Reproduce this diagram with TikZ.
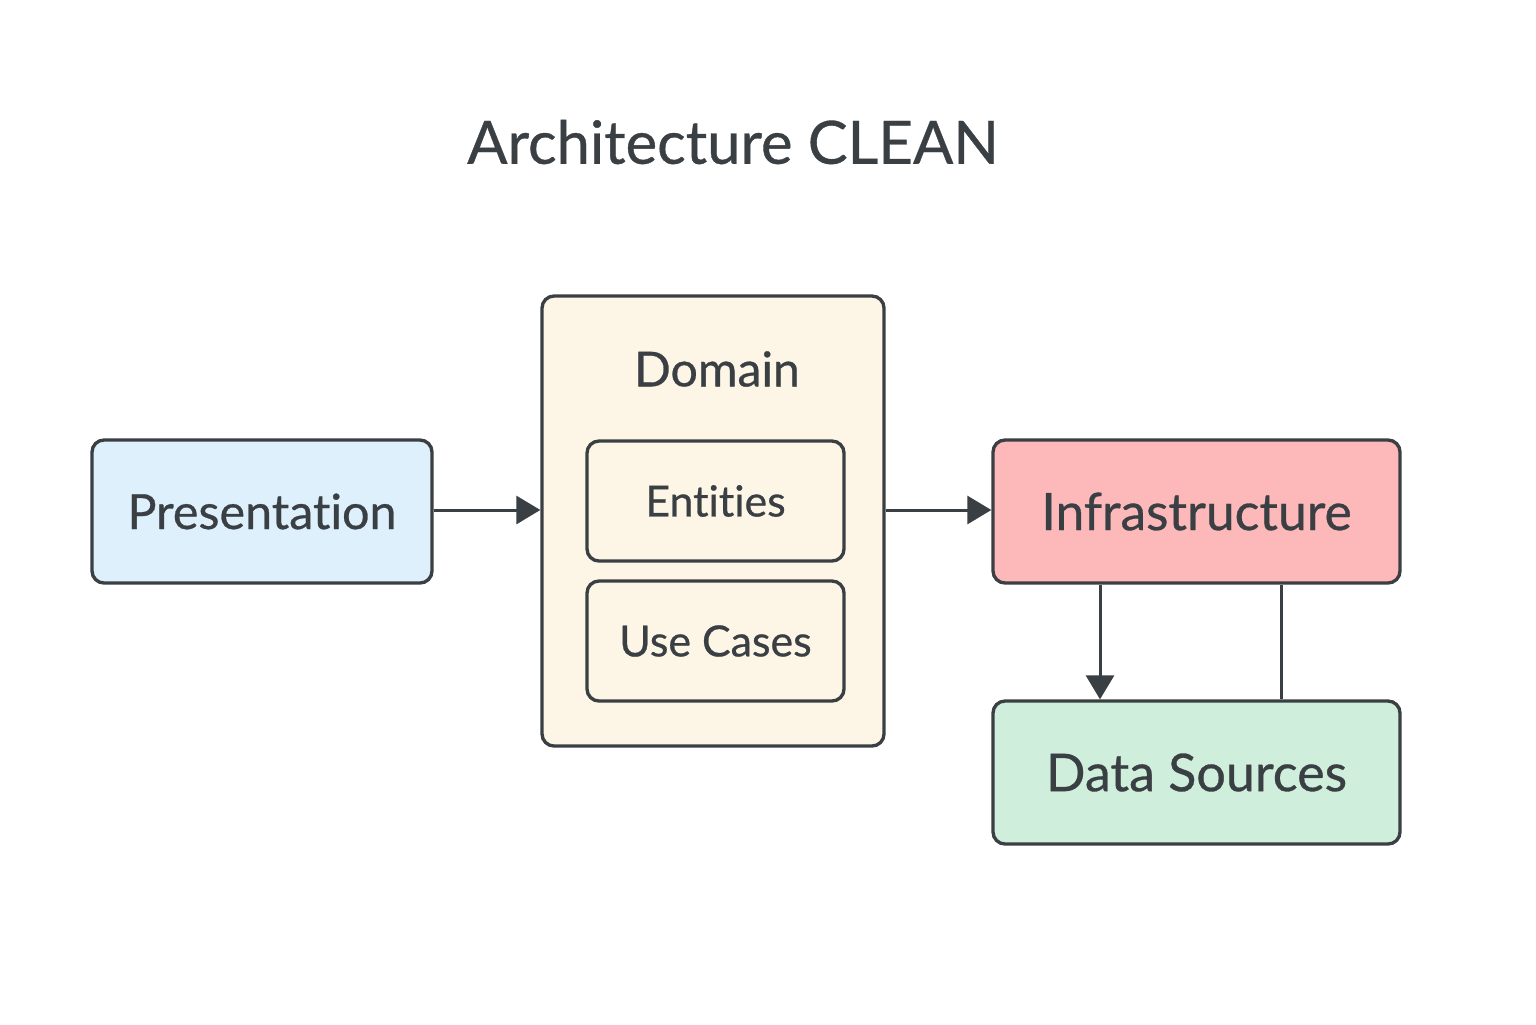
\documentclass[tikz,border=0pt]{standalone}
\usepackage{fontspec}
\setmainfont{Lato}[FakeBold=0.6, Ligatures=NoCommon]
\usetikzlibrary{arrows.meta}
\definecolor{ink}{HTML}{3A3F44}
\definecolor{presfill}{HTML}{DFF0FD}
\definecolor{domfill}{HTML}{FDF6E6}
\definecolor{infrafill}{HTML}{FDB9B9}
\definecolor{datafill}{HTML}{CFEEDB}
\begin{document}
\begin{tikzpicture}[inner sep=1pt, >={Triangle[length=0.24cm,width=0.28cm]},
   layer/.style={draw=ink, line width=0.95pt, rounded corners=0.12cm, text=ink},
   inner/.style={layer, fill=domfill, minimum width=2.57cm, minimum height=1.2cm, font=\fontsize{12.2}{15}\selectfont},
   link/.style={draw=ink, line width=0.85pt}
   ]
   \useasboundingbox (0,0) rectangle (15.36,-10.24);

   \path (7.33,-1.42) node[text=ink, font=\fontsize{17}{21}\selectfont] (title) {Architecture CLEAN};

   \path (2.62,-5.115) node[layer, fill=presfill, minimum width=3.4cm, minimum height=1.43cm, font=\fontsize{13.8}{17}\selectfont] (P) {Presentation}
   (7.13,-5.21) node[layer, fill=domfill, minimum width=3.42cm, minimum height=4.5cm] (D) {};
   \path (7.17,-3.69) node[text=ink, font=\fontsize{13.7}{17}\selectfont] (Dt) {Domain}
   (7.155,-5.01) node[inner] (E) {Entities}
   (7.155,-6.41) node[inner] (U) {Use Cases};
   \path (11.965,-5.115) node[layer, fill=infrafill, minimum width=4.07cm, minimum height=1.43cm, font=\fontsize{14.7}{18}\selectfont] (I) {Infrastructure}
   (11.965,-7.725) node[layer, fill=datafill, minimum width=4.07cm, minimum height=1.43cm, font=\fontsize{14.8}{18}\selectfont] (S) {Data Sources};

   \draw[link, ->] (P.east |- 0,-5.1) -- (D.west |- 0,-5.1);
   \draw[link, ->] (D.east |- 0,-5.1) -- (I.west |- 0,-5.1);
   \draw[link, ->] (I.south -| 11.0,0) -- (S.north -| 11.0,0);
   \draw[link] (I.south -| 12.81,0) -- (S.north -| 12.81,0);

\end{tikzpicture}
\end{document}
